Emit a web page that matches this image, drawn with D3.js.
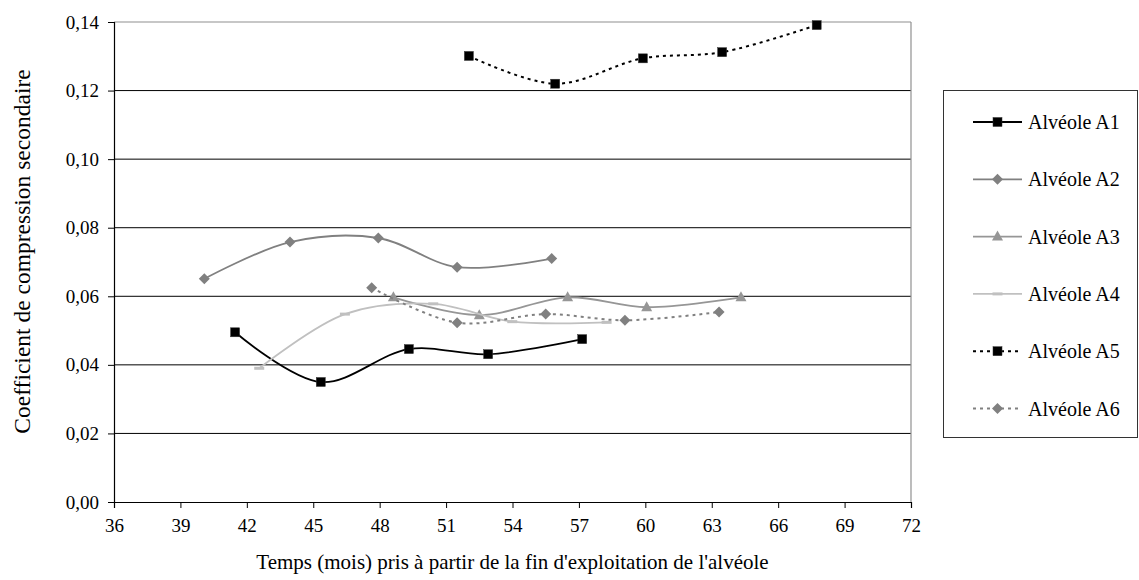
<!DOCTYPE html>
<html><head><meta charset="utf-8">
<script src="https://cdn.jsdelivr.net/npm/d3@7"></script>
<style>
html,body{margin:0;padding:0;background:#fff;}
svg{display:block;}
svg text{font-family:"Times New Roman","Liberation Serif",serif !important;}
</style></head>
<body><svg id="c" width="1139" height="580"></svg>
<script>
const xTicks = [36,39,42,45,48,51,54,57,60,63,66,69,72];
const yTicks = [0,0.02,0.04,0.06,0.08,0.10,0.12,0.14];
const seriesNames = ["Alvéole A1","Alvéole A2","Alvéole A3","Alvéole A4","Alvéole A5","Alvéole A6"];
const a1X = [41.47,45.34,49.32,52.9,57.15];
const a1Y = [0.0495,0.0350,0.0446,0.0431,0.0475];
const a2X = [40.08,43.95,47.94,51.5,55.77];
const a2Y = [0.0651,0.0758,0.0770,0.0685,0.0710];
const a3X = [48.62,52.5,56.49,60.06,64.32];
const a3Y = [0.0597,0.0545,0.0597,0.0568,0.0597];
const a4X = [42.56,46.43,50.42,53.99,58.25];
const a4Y = [0.0390,0.0548,0.0578,0.0526,0.0524];
const a5X = [52.03,55.93,59.89,63.47,67.74];
const a5Y = [0.1301,0.1220,0.1294,0.1312,0.1391];
const a6X = [47.64,51.5,55.5,59.08,63.33];
const a6Y = [0.0625,0.0523,0.0548,0.0530,0.0554];

const styles = [
  {color:"#000000", dash:null, marker:"square"},
  {color:"#808080", dash:null, marker:"diamond"},
  {color:"#969696", dash:null, marker:"triangle"},
  {color:"#c0c0c0", dash:null, marker:"dash"},
  {color:"#000000", dash:"3,4", marker:"square"},
  {color:"#808080", dash:"3,4", marker:"diamond"}
];
const xs=[a1X,a2X,a3X,a4X,a5X,a6X], ys=[a1Y,a2Y,a3Y,a4Y,a5Y,a6Y];
const series = seriesNames.map((n,i)=>({name:n, pts:xs[i].map((x,j)=>[x,ys[i][j]]), st:styles[i]}));

const FONT = '"Times New Roman", "Liberation Serif", serif';
const svg = d3.select("#c");
const L=114,R=911,T=22,B=502;
const x = d3.scaleLinear().domain([36,72]).range([L,R]);
const y = d3.scaleLinear().domain([0,0.14]).range([B,T]);

// gridlines
svg.append("g").selectAll("line").data(yTicks.filter(v=>v>0 && v<0.14)).join("line")
  .attr("x1",L).attr("x2",R).attr("y1",d=>y(d)).attr("y2",d=>y(d))
  .attr("stroke","#000").attr("stroke-width",1);
// frame top/right
svg.append("line").attr("x1",L).attr("x2",R).attr("y1",y(0.14)).attr("y2",y(0.14)).attr("stroke","#909090").attr("stroke-width",1.2);
svg.append("line").attr("x1",R).attr("x2",R).attr("y1",T).attr("y2",B).attr("stroke","#909090").attr("stroke-width",1.2);

// axes
const yAxis = d3.axisLeft(y).tickValues(yTicks).tickSize(6).tickPadding(9)
  .tickFormat(d=>d3.format(".2f")(d).replace(".",","));
const gy = svg.append("g").attr("transform",`translate(${L},0)`).call(yAxis);
gy.attr("font-family",FONT);
gy.selectAll("text").attr("font-size",19).style("font-family",FONT).attr("fill","#000");
gy.select(".domain").attr("stroke","#000").attr("stroke-width",1.2);
gy.selectAll(".tick line").attr("stroke","#000");

const xAxis = d3.axisBottom(x).tickValues(xTicks).tickSize(6).tickPadding(11).tickFormat(d3.format("d"));
const gx = svg.append("g").attr("transform",`translate(0,${B})`).call(xAxis);
gx.attr("font-family",FONT);
gx.selectAll("text").attr("font-size",19).style("font-family",FONT).attr("fill","#000");
gx.select(".domain").attr("stroke","#000").attr("stroke-width",1.2);
gx.selectAll(".tick line").attr("stroke","#000");

// titles
svg.append("text").attr("x",(L+R)/2).attr("y",569).attr("text-anchor","middle")
  .style("font-family",FONT).attr("font-size",21).text("Temps (mois) pris à partir de la fin d'exploitation de l'alvéole");
svg.append("text").attr("transform",`translate(30,${(68+435)/2}) rotate(-90)`).attr("text-anchor","middle")
  .style("font-family",FONT).attr("font-size",23.5).text("Coefficient de compression secondaire");

function drawMarker(g, type, color, cx, cy){
  if(type==="square"){
    g.append("rect").attr("x",cx-4.5).attr("y",cy-4.5).attr("width",9).attr("height",9).attr("fill",color).attr("stroke","#333").attr("stroke-width",0.5);
  } else if(type==="diamond"){
    g.append("path").attr("d",`M${cx},${cy-5.5}L${cx+5.5},${cy}L${cx},${cy+5.5}L${cx-5.5},${cy}Z`).attr("fill",color);
  } else if(type==="triangle"){
    g.append("path").attr("d",`M${cx},${cy-6}L${cx+5.5},${cy+4}L${cx-5.5},${cy+4}Z`).attr("fill",color);
  } else if(type==="dash"){
    g.append("rect").attr("x",cx-5).attr("y",cy-1.5).attr("width",10).attr("height",3).attr("fill",color);
  }
}

const line = d3.line().x(d=>x(d[0])).y(d=>y(d[1])).curve(d3.curveCatmullRom.alpha(0.5));
const plot = svg.append("g");
series.forEach(s=>{
  const g = plot.append("g");
  g.append("path").attr("d",line(s.pts)).attr("fill","none").attr("stroke",s.st.color)
   .attr("stroke-width",s.st.dash?2:1.8).attr("stroke-dasharray",s.st.dash);
  s.pts.forEach(p=>drawMarker(g,s.st.marker,s.st.color,x(p[0]),y(p[1])));
});

// legend
const lg = svg.append("g");
lg.append("rect").attr("x",943.5).attr("y",90.5).attr("width",194).attr("height",347)
  .attr("fill","#fff").attr("stroke","#333").attr("stroke-width",1);
series.forEach((s,i)=>{
  const cy = 122 + i*57.3;
  const g = lg.append("g");
  g.append("line").attr("x1",973).attr("x2",1022).attr("y1",cy).attr("y2",cy)
   .attr("stroke",s.st.color).attr("stroke-width",s.st.dash?2:1.8).attr("stroke-dasharray",s.st.dash);
  drawMarker(g, s.st.marker, s.st.color, 997.5, cy);
  g.append("text").attr("x",1028).attr("y",cy).attr("dy","0.35em").style("font-family",FONT).attr("font-size",20).text(s.name);
});
</script></body></html>
